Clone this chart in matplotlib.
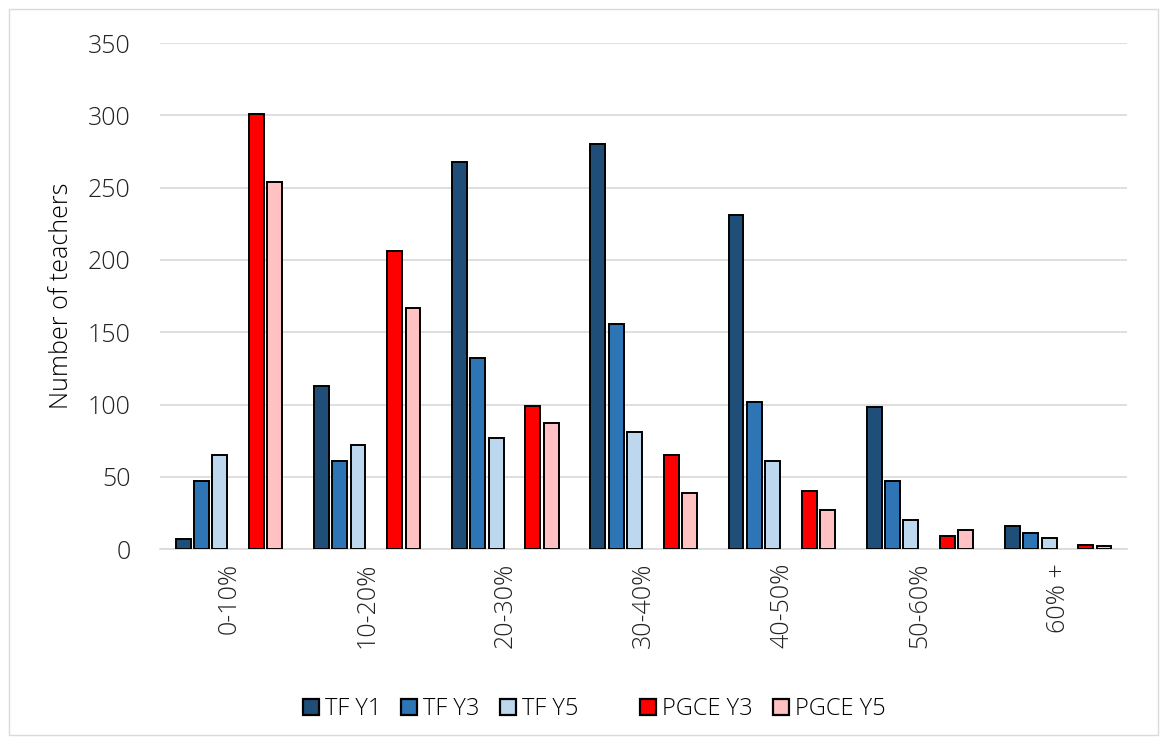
import numpy as np
import matplotlib.pyplot as plt
from matplotlib.patches import Patch, Rectangle

categories = ["0-10%", "10-20%", "20-30%", "30-40%", "40-50%", "50-60%", "60% +"]
series_names = ["TF Y1", "TF Y3", "TF Y5", "PGCE Y3", "PGCE Y5"]
tf_y1 = [7, 113, 268, 280, 231, 98, 16]
tf_y3 = [47, 61, 132, 156, 102, 47, 11]
tf_y5 = [65, 72, 77, 81, 61, 20, 8]
pgce_y3 = [301, 206, 99, 65, 40, 9, 3]
pgce_y5 = [254, 167, 87, 39, 27, 13, 2]

colors = ["#1F4E79", "#2E75B6", "#BDD7EE", "#FF0000", "#FFC1C1"]
series = [tf_y1, tf_y3, tf_y5, pgce_y3, pgce_y5]
# slot 3 is left empty (blank series in the original)
slots = [0, 1, 2, 4, 5]

plt.rcParams['font.family'] = ['Open Sans', 'DejaVu Sans']

fig = plt.figure(figsize=(11.67, 7.44), dpi=100)
ax = fig.add_axes([0.137, 0.262, 0.829, 0.680])

x = np.arange(len(categories))
pitch = 0.1326
width = 0.108
for vals, col, s, name in zip(series, colors, slots, series_names):
    ax.bar(x + (s - 2.5) * pitch, vals, width, color=col, edgecolor="black",
           linewidth=1.4, label=name, zorder=3)

ax.set_xlim(-0.5, len(categories) - 0.5)
ax.set_ylim(0, 350)
ax.set_yticks(range(0, 351, 50))
ax.grid(axis="y", color="#d9d9d9", linewidth=1.2, zorder=0)
for sp in ["top", "right", "left"]:
    ax.spines[sp].set_visible(False)
ax.spines["bottom"].set_color("#d9d9d9")
ax.spines["bottom"].set_linewidth(1.2)
ax.tick_params(axis="both", length=0, labelsize=18, colors="#222222")
ax.tick_params(axis="y", pad=21)
ax.tick_params(axis="x", pad=10)
ax.set_xticks(x)
ax.set_xticklabels(categories, rotation=90, fontweight="light")
for lab in ax.get_yticklabels():
    lab.set_fontweight("light")
ax.set_ylabel("Number of teachers", fontsize=18, fontweight="light", labelpad=10)

handles = [Patch(facecolor=c, edgecolor="black", linewidth=1.6) for c in colors]
blank = Patch(facecolor="none", edgecolor="none")
handles = handles[:3] + [blank] + handles[3:]
labels = series_names[:3] + [""] + series_names[3:]
fig.legend(handles, labels, loc="center", bbox_to_anchor=(0.509, 0.047), ncol=6,
           frameon=False, handlelength=0.68, handleheight=0.68,
           handletextpad=0.25, columnspacing=0.85, prop={"weight": "light", "size": 17})

fig.patches.append(Rectangle((0.008, 0.012), 0.984, 0.976, transform=fig.transFigure,
                             fill=False, edgecolor="#d9d9d9", linewidth=1))

fig.savefig("out.png", dpi=100)
